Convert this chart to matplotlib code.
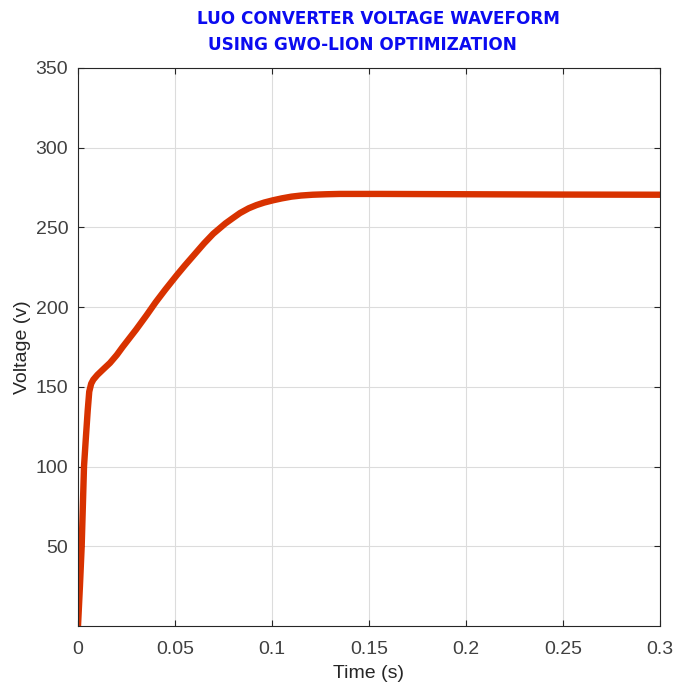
import matplotlib
matplotlib.use("Agg")
import matplotlib.pyplot as plt
import numpy as np

# Data
time_s = [0.0, 0.0010, 0.0019, 0.0031, 0.0040, 0.0050, 0.0058, 0.0068, 0.0079, 0.0100,
          0.0130, 0.0165, 0.0200, 0.0230, 0.0265, 0.0300, 0.0354, 0.0400, 0.0450,
          0.0509, 0.0550, 0.0600, 0.0650, 0.0697, 0.0760, 0.0800, 0.0835, 0.0880,
          0.0920, 0.0960, 0.1005, 0.1050, 0.1100, 0.1150, 0.1210, 0.1280, 0.1350,
          0.1450, 0.1560, 0.2000, 0.2500, 0.3000]
voltage_v = [0.0, 25.0, 50.0, 100.0, 117.0, 135.0, 147.0, 152.0, 154.5, 157.5,
             161.0, 165.0, 170.0, 175.0, 180.5, 186.0, 195.0, 203.0, 211.0,
             220.0, 226.0, 233.0, 240.0, 246.0, 252.5, 256.0, 259.0, 262.0,
             264.0, 265.6, 267.0, 268.2, 269.3, 270.0, 270.5, 270.8, 271.0,
             271.0, 271.0, 270.8, 270.6, 270.5]
x_ticks = [0, 0.05, 0.1, 0.15, 0.2, 0.25, 0.3]
x_tick_labels = ["0", "0.05", "0.1", "0.15", "0.2", "0.25", "0.3"]
y_ticks = [50, 100, 150, 200, 250, 300, 350]

plt.rcParams['font.family'] = ['Liberation Sans', 'DejaVu Sans']

fig = plt.figure(figsize=(6.77, 6.88), dpi=100)
ax = fig.add_axes([0.1152, 0.0901, 0.8597, 0.8111])

ax.plot(time_s, voltage_v, color='#D83200', linewidth=4.6,
        solid_capstyle='butt', solid_joinstyle='round')

ax.set_xlim(0, 0.3)
ax.set_ylim(0, 350)
ax.set_xticks(x_ticks)
ax.set_xticklabels(x_tick_labels)
ax.set_yticks(y_ticks)
ax.grid(True, color='#DCDCDC', linewidth=0.8)
ax.set_axisbelow(True)
ax.tick_params(direction='in', length=4, labelsize=14, colors='#262626', labelcolor='#404040',
               top=True, right=True, labeltop=False, labelright=False)
ax.tick_params(axis='x', pad=11)
ax.tick_params(axis='y', pad=7)
for s in ax.spines.values():
    s.set_color('#262626')
    s.set_linewidth(0.8)

ax.set_xlabel('Time (s)', fontsize=14, color='#262626', labelpad=5)
ax.set_ylabel('Voltage (v)', fontsize=14, color='#262626', labelpad=3)

fig.text(0.291, 0.972, 'LUO CONVERTER VOLTAGE WAVEFORM', color='#0B0BF0', fontsize=12.2,
         family='DejaVu Sans', fontweight='heavy', ha='left', va='center')
fig.text(0.307, 0.934, 'USING GWO-LION OPTIMIZATION', color='#0B0BF0', fontsize=12.2,
         family='DejaVu Sans', fontweight='heavy', ha='left', va='center')

fig.savefig('out.png', dpi=100, facecolor='white')
